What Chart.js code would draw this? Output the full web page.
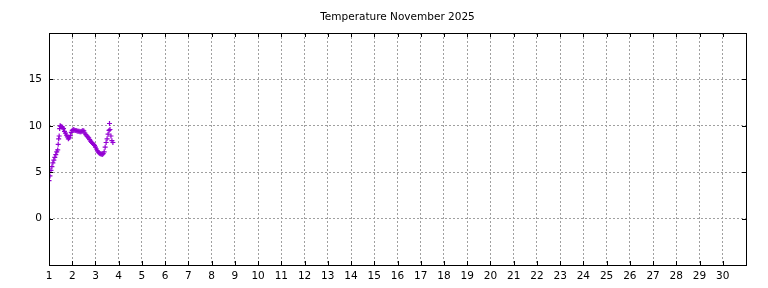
<!DOCTYPE html>
<html>
<head>
<meta charset="utf-8">
<script src="https://cdn.jsdelivr.net/npm/chart.js@4/dist/chart.umd.min.js"></script>
<style>
  html, body { margin: 0; padding: 0; background: #fff; }
  #wrap { width: 768px; height: 288px; }
</style>
</head>
<body>
<div id="wrap"><canvas id="tempChart" width="768" height="288"></canvas></div>
<script>
// hours since 1 Nov 00:00, and temperature readings (°C)
var hours = [0, 1, 2, 3, 4, 5, 6, 7, 8, 9, 9.5, 10, 10.5, 11, 11.5, 12, 13, 14, 15, 16,
    17, 18, 19, 20, 21, 22, 23, 24, 25, 26, 27, 28, 29, 30, 31, 32, 33, 34, 35, 36,
    37, 38, 39, 40, 41, 42, 43, 44, 45, 46, 47, 48, 49, 50, 51, 52, 53, 54, 55, 56,
    57, 58, 59, 60, 61, 62, 62.5, 63, 64, 65, 66];
var temps = [4.1, 4.6, 5.2, 5.6, 6.0, 6.3, 6.6, 6.9, 7.2, 7.4, 8.0, 8.6, 8.9, 9.7, 10.0, 9.95, 9.9, 9.85, 9.7, 9.4,
    9.2, 9.0, 8.8, 8.6, 8.7, 8.95, 9.3, 9.5, 9.6, 9.55, 9.5, 9.5, 9.45, 9.4, 9.4, 9.35, 9.35, 9.4, 9.5, 9.45,
    9.2, 9.05, 8.9, 8.8, 8.7, 8.5, 8.35, 8.2, 8.1, 8.0, 7.9, 7.7, 7.5, 7.3, 7.15, 7.05, 7.0, 6.95, 6.9, 7.0,
    7.2, 7.7, 8.2, 8.6, 9.1, 9.5, 10.25, 9.6, 8.9, 8.4, 8.2];

var title = 'Temperature November 2025';
var xMin = 1, xMax = 31;
var yMin = -5, yMax = 20;
var yLabels = [0, 5, 10, 15];

var points = hours.map(function(h, i) {
    return { x: 1 + h / 24, y: temps[i] };
});

// gnuplot style frame with inward ticks, title centred over the plot
var frameTicks = {
    id: 'frameTicks',
    afterDraw: function(chart) {
        var c = chart.ctx, a = chart.chartArea;
        var xs = chart.scales.x, ys = chart.scales.y;
        c.save();
        c.strokeStyle = '#000';
        c.lineWidth = 1;
        c.beginPath();
        for (var d = xMin + 1; d < xMax; d++) {
            var px = Math.round(xs.getPixelForValue(d)) + 0.5;
            c.moveTo(px, a.bottom); c.lineTo(px, a.bottom - 4);
            c.moveTo(px, a.top); c.lineTo(px, a.top + 4);
        }
        yLabels.forEach(function(v) {
            var py = Math.round(ys.getPixelForValue(v)) + 0.5;
            c.moveTo(a.left, py); c.lineTo(a.left + 4, py);
            c.moveTo(a.right, py); c.lineTo(a.right - 4, py);
        });
        c.stroke();
        c.strokeRect(Math.round(a.left) + 0.5, Math.round(a.top) + 0.5,
            Math.round(a.right - a.left), Math.round(a.bottom - a.top));

        c.fillStyle = '#000';
        c.font = '10.5px "DejaVu Sans"';
        c.textAlign = 'center';
        c.textBaseline = 'alphabetic';
        c.fillText(title, (a.left + a.right) / 2, 19.5);
        c.restore();
    }
};

var ctx = document.getElementById('tempChart').getContext('2d');
var tempChart = new Chart(ctx, {
    type: 'scatter',
    data: {
        datasets: [{
            label: 'Temperature',
            data: points,
            showLine: false,
            pointStyle: 'cross',
            pointRadius: 2.5,
            pointBorderWidth: 1.2,
            borderColor: '#9400d3',
            backgroundColor: '#9400d3'
        }]
    },
    options: {
        responsive: false,
        animation: false,
        layout: { padding: { left: 0, right: 22, top: 33, bottom: 0 } },
        plugins: {
            legend: { display: false },
            tooltip: { enabled: false },
            title: { display: false }
        },
        scales: {
            x: {
                type: 'linear',
                min: xMin,
                max: xMax,
                afterFit: function(s) { s.height = 23; },
                ticks: {
                    stepSize: 1,
                    autoSkip: false,
                    maxRotation: 0,
                    padding: 5,
                    color: '#000',
                    font: { family: 'DejaVu Sans', size: 10.5 },
                    callback: function(v) { return v >= xMax ? '' : v; }
                },
                grid: {
                    drawTicks: false,
                    color: '#a0a0a0',
                    lineWidth: 1
                },
                border: { display: false, dash: [2, 2] }
            },
            y: {
                min: yMin,
                max: yMax,
                afterFit: function(s) { s.width = 49; },
                ticks: {
                    stepSize: 5,
                    padding: 7,
                    color: '#000',
                    font: { family: 'DejaVu Sans', size: 10.5 },
                    callback: function(v) { return yLabels.indexOf(v) >= 0 ? v : ''; }
                },
                grid: {
                    drawTicks: false,
                    color: '#a0a0a0',
                    lineWidth: 1
                },
                border: { display: false, dash: [2, 2] }
            }
        }
    },
    plugins: [frameTicks]
});
</script>
</body>
</html>
